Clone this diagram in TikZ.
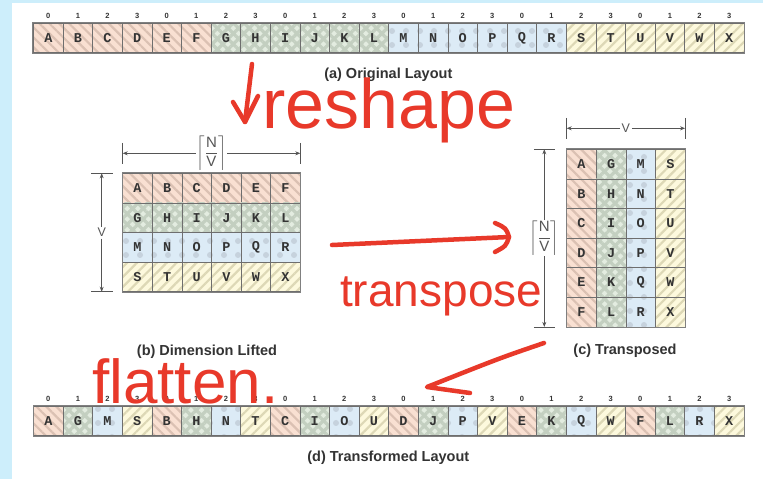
\documentclass[tikz,border=0pt]{standalone}
\usepackage{fontspec}
\usepackage{amsmath}
\setmainfont{Liberation Sans}
\setmonofont{Liberation Mono}
\usetikzlibrary{arrows.meta, patterns.meta, calc}
\definecolor{pagebg}{HTML}{CDEEFB}
\definecolor{salmonfill}{HTML}{F9E0D2}
\definecolor{salmonline}{HTML}{DBC1B3}
\definecolor{greenfill}{HTML}{E3ECE0}
\definecolor{greenline}{HTML}{C3CFC0}
\definecolor{bluefill}{HTML}{DCEBF6}
\definecolor{blueline}{HTML}{C6D2DD}
\definecolor{yellowfill}{HTML}{FDF9DD}
\definecolor{yellowline}{HTML}{DDD8B6}
\definecolor{cellframe}{HTML}{6E6E6E}
\definecolor{inkgray}{HTML}{333333}
\definecolor{dimgray}{HTML}{555555}
\definecolor{penred}{HTML}{E8392A}

\begin{document}
\begin{tikzpicture}[
  x=1pt, y=-1pt,
  cellnode/.style={rectangle, draw=cellframe, line width=0.8pt, minimum width=29.6pt, minimum height=29.6pt, inner sep=0pt, font=\fontsize{13.5}{13.5}\selectfont\ttfamily\bfseries, text=inkgray},
  band0/.style={cellnode, preaction={fill=salmonfill}, pattern={Lines[angle=-45, distance=7pt, line width=2.2pt]}, pattern color=salmonline},
  band1/.style={cellnode, preaction={fill=greenfill}, pattern={Hatch[angle=45, distance=7.5pt, line width=3.2pt]}, pattern color=greenline},
  band2/.style={cellnode, preaction={fill=bluefill}, pattern={Dots[radius=3pt, distance=14pt]}, pattern color=blueline},
  band3/.style={cellnode, preaction={fill=yellowfill}, pattern={Lines[angle=45, distance=7pt, line width=2.2pt]}, pattern color=yellowline},
  rowframe/.style={draw=gray, line width=1.1pt},
  idxnode/.style={inner sep=1pt, font=\fontsize{7.5}{7.5}\selectfont\bfseries, text=inkgray},
  capnode/.style={inner sep=1pt, font=\fontsize{14.5}{14.5}\selectfont\bfseries, text=inkgray},
  dimnode/.style={fill=white, inner sep=1.5pt, font=\fontsize{12.5}{14}\selectfont, text=dimgray},
  fracnode/.style={dimnode, inner sep=0.5pt, font=\fontsize{15}{17}\selectfont},
  dimarrow/.style={draw=dimgray, line width=0.7pt, -{Stealth[length=5pt, width=4pt]}},
  dimtick/.style={draw=dimgray, line width=0.7pt},
  penstroke/.style={draw=penred, line width=4.5pt, line cap=round, line join=round},
  pennode/.style={anchor=base west, inner sep=0pt, text=penred},
]
% page
\useasboundingbox (0,0) rectangle (763,479);
\fill[pagebg] (0,0) rectangle (763,479);
\fill[white] (12,3) rectangle (763,479);

% (a) original layout
\foreach \l [count=\i from 0] in {A,...,X} {
  \pgfmathtruncatemacro\g{\i/6}
  \pgfmathtruncatemacro\k{mod(\i,4)}
  \node[band\g] (a\i) at ({48.3+29.6*\i}, 38) {\l};
  \node[idxnode] (ia\i) at ({48.3+29.6*\i}, 15.5) {\k};
}
\draw[rowframe] (a0.north west) rectangle (a23.south east);
\node[capnode] (capa) at (388.3, 75) {(a) Original Layout};

% (b) dimension lifted
\foreach \l [count=\i from 0] in {A,...,X} {
  \pgfmathtruncatemacro\r{\i/6}
  \pgfmathtruncatemacro\c{mod(\i,6)}
  \node[band\r] (b\i) at ({137.5+29.6*\c}, {188.1+29.6*\r}) {\l};
}
\draw[rowframe] (b0.north west) rectangle (b23.south east);
\coordinate (bw) at (122.7, 153.3);
\coordinate (be) at (300.3, 153.3);
\node[fracnode] (bnv) at (211.5, 153.3) {$\left\lceil\dfrac{\text{N}}{\text{V}}\right\rceil$};
\draw[dimarrow] (bnv) -- (bw);
\draw[dimarrow] (bnv) -- (be);
\draw[dimtick] ([yshift=10.5pt]bw) -- ([yshift=-10.5pt]bw);
\draw[dimtick] ([yshift=10.5pt]be) -- ([yshift=-10.5pt]be);
\coordinate (bn) at (101.7, 173.3);
\coordinate (bs) at (101.7, 291.7);
\node[dimnode] (bv) at (101.7, 232.5) {V};
\draw[dimarrow] (bv) -- (bn);
\draw[dimarrow] (bv) -- (bs);
\draw[dimtick] ([xshift=-10.5pt]bn) -- ([xshift=11pt]bn);
\draw[dimtick] ([xshift=-10.5pt]bs) -- ([xshift=11pt]bs);
\node[capnode] (capb) at (207, 352) {(b) Dimension Lifted};

% (c) transposed
\foreach \l [count=\i from 0] in {A,...,X} {
  \pgfmathtruncatemacro\c{\i/6}
  \pgfmathtruncatemacro\r{mod(\i,6)}
  \node[band\c] (c\i) at ({581.5+29.6*\c}, {164.1+29.6*\r}) {\l};
}
\draw[rowframe] (c0.north west) rectangle (c23.south east);
\coordinate (cw) at (566.7, 128.3);
\coordinate (ce) at (685.1, 128.3);
\node[dimnode] (cv) at (625.9, 128.3) {V};
\draw[dimarrow] (cv) -- (cw);
\draw[dimarrow] (cv) -- (ce);
\draw[dimtick] ([yshift=10.5pt]cw) -- ([yshift=-10.5pt]cw);
\draw[dimtick] ([yshift=10.5pt]ce) -- ([yshift=-10.5pt]ce);
\coordinate (cn) at (544.3, 149.3);
\coordinate (cs) at (544.3, 326.9);
\node[fracnode] (cnv) at (544.3, 238.1) {$\left\lceil\dfrac{\text{N}}{\text{V}}\right\rceil$};
\draw[dimarrow] (cnv) -- (cn);
\draw[dimarrow] (cnv) -- (cs);
\draw[dimtick] ([xshift=-10.5pt]cn) -- ([xshift=11pt]cn);
\draw[dimtick] ([xshift=-10.5pt]cs) -- ([xshift=11pt]cs);
\node[capnode] (capc) at (625, 351) {(c) Transposed};

% (d) transformed layout
\foreach \l [count=\i from 0] in {A,G,M,S,B,H,N,T,C,I,O,U,D,J,P,V,E,K,Q,W,F,L,R,X} {
  \pgfmathtruncatemacro\g{mod(\i,4)}
  \node[band\g] (d\i) at ({48.3+29.6*\i}, 421) {\l};
  \node[idxnode] (id\i) at ({48.3+29.6*\i}, 399) {\g};
}
\draw[rowframe] (d0.north west) rectangle (d23.south east);
\node[capnode] (capd) at (388.3, 458) {(d) Transformed Layout};

% red pen notes
\coordinate (rs0) at (252, 64);
\coordinate (rs1) at (245, 122);
\draw[penstroke] (rs0) -- (rs1);
\draw[penstroke] (233, 102) -- (rs1) -- (258, 96);
\node[pennode, font=\fontsize{70}{70}\selectfont] (reshape) at (262, 128) {reshape};

\coordinate (tp0) at (332, 245);
\coordinate (tp1) at (509, 237);
\draw[penstroke] (tp0) -- (tp1);
\draw[penstroke] (495, 223) .. controls (506, 228) .. (tp1) .. controls (506, 246) .. (495, 252);
\node[pennode, font=\fontsize{46}{46}\selectfont] (transpose) at (340, 306) {transpose};

\coordinate (fl0) at (544, 343);
\coordinate (fl1) at (427, 387);
\draw[penstroke] (fl0) .. controls (500, 358) .. (fl1) -- (470, 393);
\node[pennode, font=\fontsize{62}{62}\selectfont] (flatten) at (92, 403) {flatten.};
\end{tikzpicture}
\end{document}
